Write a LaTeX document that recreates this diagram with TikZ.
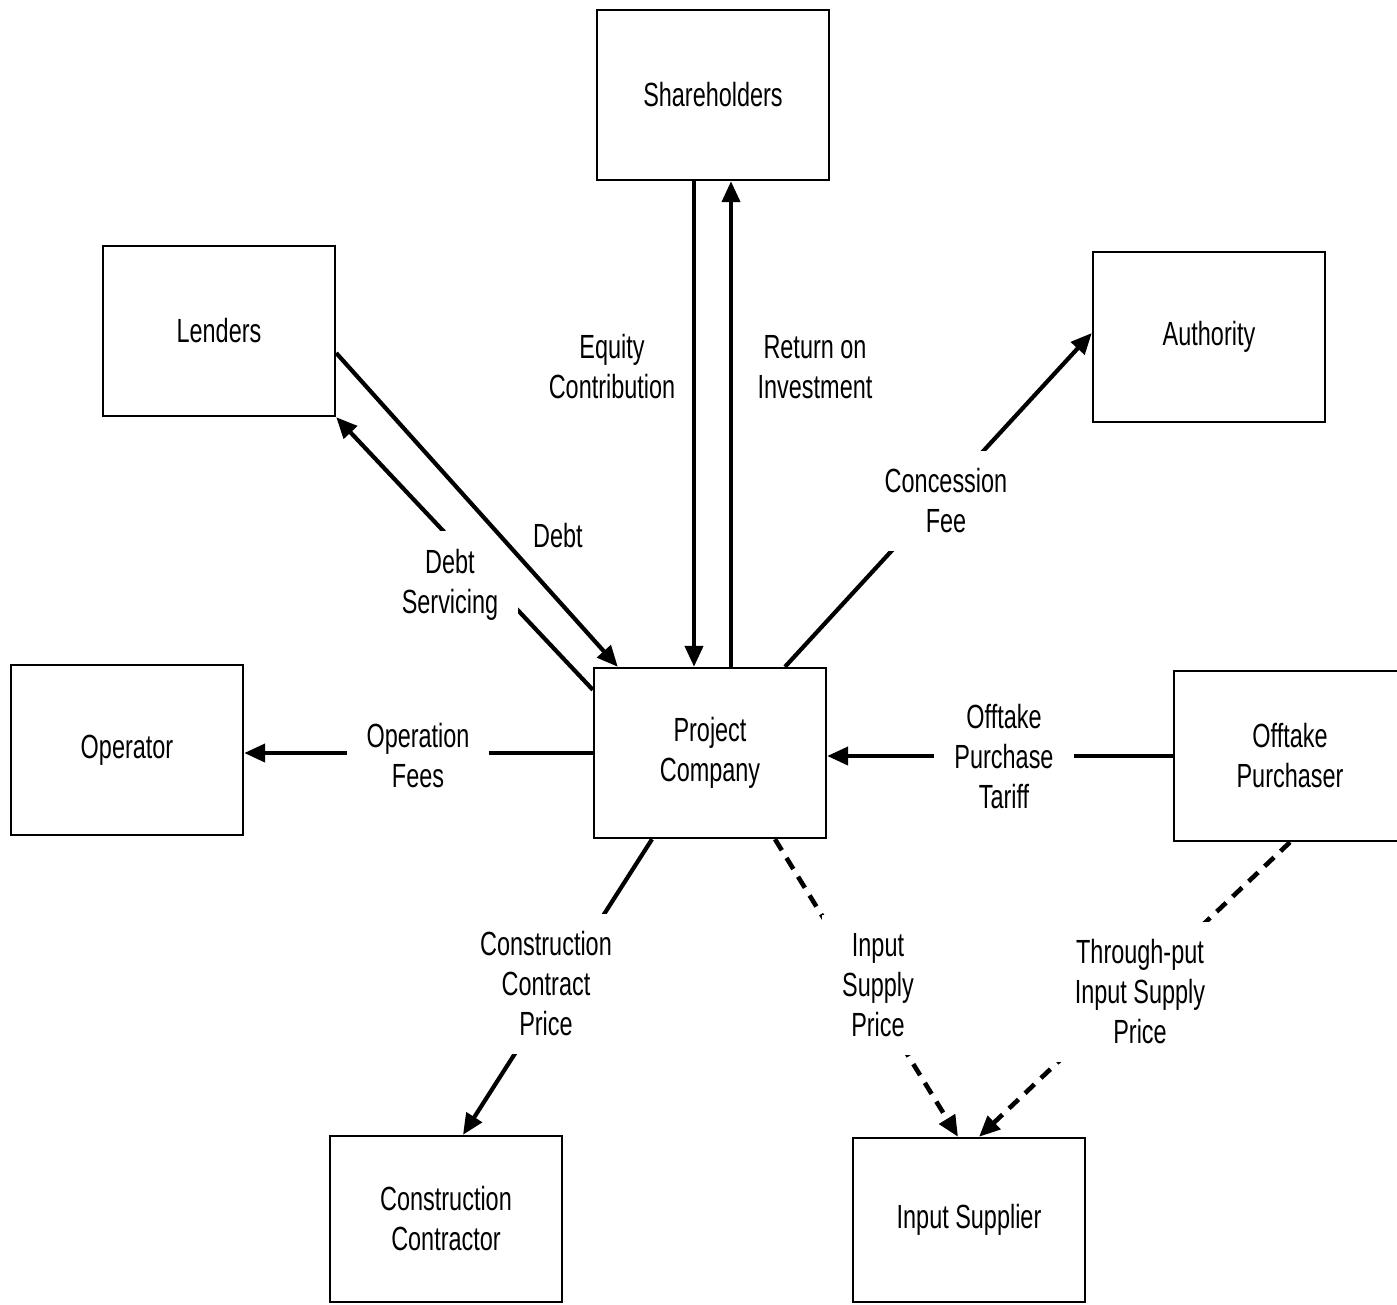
\documentclass[tikz,border=0pt]{standalone}
\usepackage{fontspec}
\setmainfont{Liberation Sans}[FakeStretch=0.70]
\usetikzlibrary{arrows.meta,positioning}

\begin{document}
\begin{tikzpicture}[x=1pt,y=-1pt,
    entity/.style={draw,line width=2.4pt,minimum width=232pt,minimum height=170pt,align=center,font=\fontsize{33.5}{40}\selectfont},
    lbl/.style={align=center,font=\fontsize{33.5}{40}\selectfont},
    cut/.style={lbl,fill=white,inner xsep=20pt,inner ysep=18pt},
    flow/.style={line width=4.2pt,-{Triangle[length=21pt,width=18pt]}},
    dflow/.style={flow,line width=4.6pt,dash pattern=on 13pt off 9pt}]
    \useasboundingbox (0,0) rectangle (1397,1304);
    % Estructura contractual del proyecto
    \foreach \n/\x/\y/\t in {share/713/95/Shareholders, lend/219/331/Lenders, auth/1209/337/Authority, opr/127/750/Operator, proj/710/753/{Project\\Company}, offt/1290/756/{Offtake\\Purchaser}} {
        \node[entity] (\n) at (\x,\y) {\t};
    }
    \node[entity,minimum height=166pt] (cons) at (446,1219) {Construction\\Contractor};
    \node[entity,minimum height=164pt] (insup) at (969,1220) {Input Supplier};

    \draw[flow] ([xshift=-19pt]share.south) -- ([xshift=-16pt]proj.north);
    \draw[flow] ([xshift=21pt]proj.north) -- ([xshift=18pt]share.south);
    \draw[flow] ([yshift=-23pt]proj.north west) -- (lend.south east);
    \draw[flow] ([xshift=75pt]proj.north) -- ([yshift=4pt]auth.west);
    \draw[flow] (proj.west) -- (proj.west -| opr.east);
    \draw[flow] (offt.west) -- (offt.west -| proj.east);
    \draw[flow] ([xshift=-58pt]proj.south) -- ([xshift=17pt]cons.north);
    \draw[dflow] ([xshift=65pt]proj.south) -- ([xshift=-11pt]insup.north);
    \draw[dflow] (offt.south) -- ([xshift=10pt]insup.north);

    \node[lbl] (eq) at (612,367) {Equity\\Contribution};
    \node[lbl] (roi) at (815,367) {Return on\\Investment};
    \node[lbl] (debt) at (558,536) {Debt};
    \node[cut] (dserv) at (450,585) {Debt\\Servicing};
    \node[cut] (conc) at (946,501) {Concession\\Fee};
    \node[cut] (opfee) at (418,756) {Operation\\Fees};
    \node[cut] (tariff) at (1004,757) {Offtake\\Purchase\\Tariff};
    \node[cut] (ccp) at (546,984) {Construction\\Contract\\Price};
    \node[cut] (isp) at (878,985) {Input\\Supply\\Price};
    \node[cut] (tisp) at (1140,992) {Through-put\\Input Supply\\Price};

    \draw[flow] ([yshift=-22pt]lend.east) -- ([xshift=25pt]proj.north west);
\end{tikzpicture}
\end{document}
